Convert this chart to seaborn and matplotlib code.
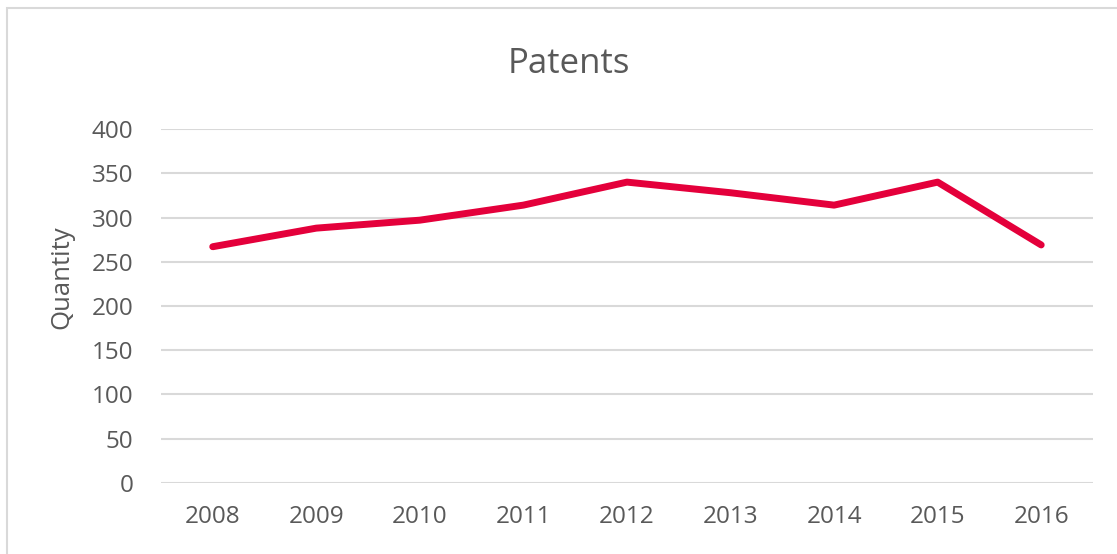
import matplotlib.pyplot as plt
import seaborn as sns
import pandas as pd
from matplotlib.patches import Rectangle

# Datos
years = [2008, 2009, 2010, 2011, 2012, 2013, 2014, 2015, 2016]
patents = [267, 288, 297, 314, 340, 328, 314, 340, 269]
y_ticks = [0, 50, 100, 150, 200, 250, 300, 350, 400]

df = pd.DataFrame({"year": years, "patents": patents})

sns.set_style("white")
plt.rcParams["font.family"] = ["Open Sans", "DejaVu Sans"]

fig = plt.figure(figsize=(11.17, 5.54), dpi=100)
ax = fig.add_axes([0.1441, 0.1282, 0.8344, 0.6389])

sns.lineplot(data=df, x="year", y="patents", color="#E4003B", linewidth=5,
             solid_capstyle="round", solid_joinstyle="round", ax=ax, zorder=3)

ax.set_xlim(years[0] - 0.5, years[-1] + 0.5)
ax.set_ylim(0, 400)
ax.set_yticks(y_ticks)
ax.set_xticks(years)
ax.set_xticklabels([str(y) for y in years])
ax.grid(axis="y", color="#D9D9D9", linewidth=1.5)
ax.grid(axis="x", visible=False)
ax.set_axisbelow(True)
for s in ax.spines.values():
    s.set_visible(False)
ax.tick_params(axis="both", length=0, labelsize=17.5, labelcolor="#595959")
ax.tick_params(axis="x", pad=16)
ax.tick_params(axis="y", pad=20)
ax.set_xlabel("")
ax.set_ylabel("Quantity", fontsize=18.5, color="#595959")
ax.yaxis.set_label_coords(-0.093, 0.58)

# Titulo centrado en la figura
fig.text(0.509, 0.885, "Patents", fontsize=25, color="#595959", ha="center", va="center")

# Borde del area del grafico
fig.patches.append(Rectangle((7 / 1117, -0.05), 1.0, 1.05 - 8 / 554, transform=fig.transFigure,
                             fill=False, edgecolor="#D9D9D9", linewidth=1.5))

fig.savefig("out.png", dpi=100)
